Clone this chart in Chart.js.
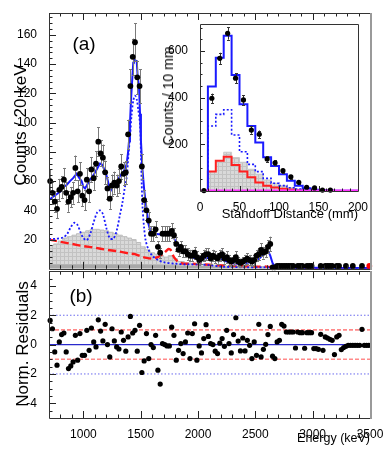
<!DOCTYPE html>
<html><head><meta charset="utf-8">
<script src="https://cdn.jsdelivr.net/npm/chart.js@4/dist/chart.umd.min.js"></script>
<style>
html,body{margin:0;padding:0;background:#fff;}
#wrap{position:relative;width:390px;height:450px;overflow:hidden;background:#fff;}
canvas{position:absolute;}
.t{position:absolute;white-space:nowrap;line-height:1;color:#000;font-family:'Liberation Sans',Arial,Helvetica,sans-serif;}
.c{transform:translate(-50%,-50%);}
.v{transform:translate(-50%,-50%) rotate(-90deg);}
.r{transform:translate(-100%,-50%);}
</style></head><body>
<div id="wrap">
<canvas id="main" width="390" height="280" style="left:0;top:0"></canvas>
<canvas id="res" width="390" height="190" style="left:0;top:260px"></canvas>
<canvas id="inset" width="220" height="215" style="left:150px;top:10px"></canvas>
<div class="t c" style="left:84px;top:43px;font-size:19px">(a)</div>
<div class="t v" style="left:20px;top:125px;font-size:17px">Counts / 20 keV</div>
<div class="t c" style="left:81px;top:295px;font-size:19px">(b)</div>
<div class="t v" style="left:22px;top:344px;font-size:17px">Norm. Residuals</div>
<div class="t r" style="left:370px;top:438px;font-size:12.5px">Energy (keV)</div>
<div class="t v" style="left:168px;top:96px;font-size:14px">Counts / 10 mm</div>
<div class="t r" style="left:358px;top:213px;font-size:13px">Standoff Distance (mm)</div>
</div>
<script>
const FONT = "'Liberation Sans', Arial, Helvetica, sans-serif";

// ================= DATA =================
// main panel: data counts per 20 keV bin, first bin centre 710 keV
const binStartKeV = 710, binWidthKeV = 20;
const counts = [60,52,46,41,54,56,61,52,46,49,
  52,69,53,65,50,47,61,53,68,62,
  72,87,79,76,66,55,48,57,59,57,
  60,70,65,66,92,125,145,155,131,125,
  70,47,40,33,24,24,27,15,11,24,
  24,24,24,26,23,17,13,15,12,12,
  10,9,9,11,8,6,7,9,10,10,
  7,9,
  8,7,9,10,7,8,6,5,6,8,
  5,4,5,6,7,6,5,6,9,10,
  13,11,12,15,17,1,1,2,2,2,
  2,2,2,2,2,null,2,2,2,null,
  2,2,2,null,null,null,2,null,2,2,
  2,2,null,2,2,null,null,2,null,null,
  2,null,null,null,2,null,null,null];
const countErrs = [8,7.5,7,6.5,7.5,7.5,8,7.5,7,7,
  7.5,8.5,7.5,8,7,7,8,7.5,8.5,8,
  8.5,10,9,9,8,7.5,7,7.5,7.5,7.5,
  8,8.5,8,8,10,11.5,12.5,13,11.5,11.5,
  8.5,7,6.5,6,5,5,5.5,4,3.5,5,
  5,5,5,5,5,4.5,4,4,4,4,
  4,4,4,4,4,3.5,3.5,4,4,4,
  3.5,4,
  4,3.5,4,4,3.5,4,3.5,3,3.5,4,
  3,3,3,3.5,3.5,3.5,3,3.5,4,4,
  4.5,4,4,4.5,5,1.5,1.5,1.5,1.5,1.5,
  1.5,1.5,1.5,1.5,1.5,0,1.5,1.5,1.5,0,
  1.5,1.5,1.5,0,0,0,1.5,0,1.5,1.5,
  1.5,1.5,0,1.5,1.5,0,0,1.5,0,0,
  1.5,0,0,0,1.5,0,0,0];
const residuals = [1.65,1.08,-0.5,-1.4,0.18,0.68,0.79,-0.5,-1.63,-1.45,
  -1.18,0.63,-1.06,0.75,-0.73,-0.73,0.97,-0.39,1.13,0.18,
  -0.16,1.69,0.92,0.25,1.38,0.0,-0.84,1.08,0.25,-0.16,
  -0.3,0.86,0.29,-0.45,0.52,1.92,0.79,0.97,-0.45,1.31,
  -1.9,-1.11,0.75,-0.95,0.0,-0.2,0.63,-1.74,-2.69,0.07,
  0.0,-0.09,-0.09,1.19,0.63,-1.06,-0.39,0.07,-0.61,0.18,
  0.79,-0.95,0.75,1.42,-1.06,-0.09,-0.57,0.41,1.36,0.56,
  0.07,0.0,
  -0.45,-0.61,0.1,0.41,-0.12,0.97,0.07,-0.57,0.68,1.83,
  0.24,-0.43,0.45,-0.43,0.29,-0.05,-0.95,0.18,-0.73,1.38,
  -0.84,-0.32,0.02,0.68,1.24,-0.79,-0.95,0.18,0.29,1.38,
  1.26,0.86,0.86,0.86,0.86,-0.23,0.86,0.81,0.81,-0.25,
  0.81,0.81,0.81,-0.27,-0.27,-0.32,0.7,-0.39,0.52,0.45,
  0.36,0.29,-0.68,0.52,0.63,-0.34,-0.2,-0.12,-0.05,-0.05,
  -0.05,-0.05,-0.05,-0.05,1.04,-0.05,-0.05,-0.05];
const overflowE = [3494];
const overflowC = [2];

// total fit (blue solid)
const fitTotalE = [700,730,767,800,825,850,883,910,941,965,985,1000,1014,1030,1043,1072,1095,1116,1145,1160,1174,1190,1203,1220,1238,1261,1290,1319,1348,1377,1390,1398,1406,1415,1427,1435,1441,1465,1474,1485,1494,1502,1514,1531,1546,1567,1587,1620,1680,1740,1770,1790,1814,1857,1915,1960,2000,2050,2100,2150,2200,2250,2300,2360,2420,2480,2520,2560,2590,2610,2630,2650,2670,2700,2800,3000,3200,3500];
const fitTotalC = [47,49,51,53,56,57,60,62,65,62,60,56,55,57,59,62.5,65,68,72,71.5,69.5,66,63.5,58,53.5,57,59,63.5,66,71.5,80,87.5,99,115,131,141,143,142,131,125,106,87.5,69,53.5,44,31,25,24,23.5,24,24,21,17,13.5,9,7.5,7,7,7.5,7.5,6.5,5,3.8,3.5,4,5,6,9,12,12.5,9,4,1.5,1,1,0.8,0.6,0.5];
// component (blue dotted)
const compBlueE = [700,760,825,860,890,920,945,975,1000,1029,1060,1090,1120,1145,1170,1200,1230,1261,1290,1319,1340,1360,1377,1395,1406,1420,1435,1450,1465,1480,1494,1502,1508,1516,1529,1543,1566,1600,1650,1700,1800,1900,2000,2100,2200,2400,2600,2700,3500];
const compBlueC = [20.5,20.5,21.5,24,28.5,31.5,30.5,25,21,19.5,24,32,38.5,40,37.5,28,21,20.5,26,37,45,55,62,80,89,105,115,118.5,116,108,99,78.5,60,42,28.5,19.5,13.5,9,6,4.5,3.5,3,3,2.5,1.5,1,1,0.5,0.3];
// component (red dashed)
const compRedE = [700,800,900,1000,1100,1200,1300,1400,1450,1500,1550,1600,1650,1700,1740,1760,1790,1830,1880,1950,2050,2150,2300,2500,2600,2700,3500];
const compRedC = [20,18.5,17,15.5,14.5,13,12,10.5,10,8.5,7.5,7,8,10.5,13.5,13,8,4.5,3.5,3.5,3,2.5,2,1.5,1.5,0.5,0.3];
// component (grey hatched, histogram left edges)
const compGreyE = [700,740,780,820,860,900,940,980,1020,1060,1100,1140,1180,1220,1260,1300,1340,1380,1420,1460,1500,1540,1580,1620,1660,1700,1740,1780,1820,1880,1940,2000,2100,2200,2400,2600,2700,3500];
const compGreyC = [16,17,19,21,22,23,24,25,26,27,27,26.5,26,25,24,23,22,21,20,18,15,13,11,10,9,8,9,7,5,4,3.5,3,2.5,2,1.5,1.5,0.5,0.3];
// component (dark grey)
const compDarkE = [700,1500,1800,2200,2700,3500];
const compDarkC = [3,3,2.5,1.5,0.5,0.3];

const mainYTicks = [20,40,60,80,100,120,140,160];
const energyTicks = [1000,1500,2000,2500,3000,3500];
const resYTicks = [4,2,0,-2,-4];
const refLevels = [0,1,-1,2,-2];

// inset: standoff distance
const insetEdges = [0,10,20,30,40,50,60,70,80,90,100,110,120,130,140,150,160,170,180,190,200];
const insetFit = [0,447,571,665,497,371,278,208,144,107,72,44,23,12,5,3,2,1,1,1];
const insetBlueComp = [0,278,328,348,240,168,114,83,54,33,23,14,8,5,2,1,1,0.5,0.5,0.5];
const insetGrey = [0,83,125,166,143,123,93,72,47,33,23,14,8,4,2,1,1,0.5,0.5,0.5];
const insetRed = [0,83,130,147,111,83,59,36,22,15,10,6,3,1,1,0.5,0.5,0.3,0.3,0.3];
const insetMagenta = [2,2,2,2,2,2,2,2,2,2,2,2,2,2,2,2,2,2,2,2];
const insetDataX = [5,15,25,35,45,55,65,75,85,95,105,115,125,135,145,155,165];
const insetDataY = [2,397,568,675,483,390,261,243,137,121,87,61,37,16,13,4,4];
const insetDataErr = [3,20,24,27,22,20,16,16,12,11,9,8,6,4,4,2,2];
const insetXTicks = [0,50,100,150,200];
const insetYTicks = [200,400,600];

// ================= HELPERS =================
const xy = (xs, ys) => xs.map((x, i) => ({x, y: ys[i]}));
const hist = (edges, vals) => vals.map((v, i) => ({x: edges[i], y: v})).concat([{x: edges[vals.length], y: vals[vals.length-1]}]);
const binEnergies = counts.map((_, i) => binStartKeV + i * binWidthKeV);

function makePattern() {
  const c = document.createElement('canvas'); c.width = 4; c.height = 4;
  const g = c.getContext('2d');
  g.fillStyle = '#d9d9d9'; g.fillRect(0,0,4,4);
  g.fillStyle = '#c2c2c2'; g.fillRect(0,0,4,1); g.fillRect(0,0,1,4);
  return g.createPattern(c, 'repeat');
}
const greyPattern = makePattern();

const rootStyle = {
  id: 'rootStyle',
  beforeDatasetDraw(chart, args) {
    const ds = chart.data.datasets[args.index];
    if (!ds.yErr) return;
    const ctx = chart.ctx, xs = chart.scales.x, ys = chart.scales.y;
    ctx.save();
    ctx.strokeStyle = ds.errColor || '#777';
    ctx.lineWidth = 1;
    const cap = ds.capHalf || 1.5;
    ds.data.forEach((p, i) => {
      if (p.y == null) return;
      const e = ds.yErr[i]; if (!e) return;
      const px = Math.round(xs.getPixelForValue(p.x)) + 0.5;
      const y1 = ys.getPixelForValue(p.y + e), y2 = ys.getPixelForValue(Math.max(p.y - e, ys.min));
      ctx.beginPath();
      ctx.moveTo(px, y1); ctx.lineTo(px, y2);
      ctx.moveTo(px - cap, Math.round(y1) + 0.5); ctx.lineTo(px + cap, Math.round(y1) + 0.5);
      ctx.moveTo(px - cap, Math.round(y2) + 0.5); ctx.lineTo(px + cap, Math.round(y2) + 0.5);
      ctx.stroke();
    });
    ctx.restore();
  },
  afterDraw(chart, args, o) {
    const ctx = chart.ctx, a = chart.chartArea, xs = chart.scales.x, ys = chart.scales.y;
    ctx.save();
    const t = o.ticks;
    if (t) {
      ctx.strokeStyle = '#222'; ctx.lineWidth = 1; ctx.beginPath();
      const minors = (s, step) => { const r = []; for (let v = Math.ceil(s.min / step - 1e-9) * step; v <= s.max + 1e-9; v += step) r.push(v); return r; };
      const doX = (vals, len) => vals.forEach(v => {
        const p = Math.round(xs.getPixelForValue(v)) + 0.5;
        if (p < a.left - 0.1 || p > a.right + 0.1) return;
        if (t.xSides.includes('bottom')) { ctx.moveTo(p, a.bottom); ctx.lineTo(p, a.bottom - len); }
        if (t.xSides.includes('top')) { ctx.moveTo(p, a.top); ctx.lineTo(p, a.top + len); }
      });
      const doY = (vals, len) => vals.forEach(v => {
        const p = Math.round(ys.getPixelForValue(v)) + 0.5;
        if (p < a.top - 0.1 || p > a.bottom + 0.1) return;
        if (t.ySides.includes('left')) { ctx.moveTo(a.left, p); ctx.lineTo(a.left + len, p); }
        if (t.ySides.includes('right')) { ctx.moveTo(a.right, p); ctx.lineTo(a.right - len, p); }
      });
      doX(minors(xs, t.xMinor), t.minorLen); doX(minors(xs, t.xMajor), t.majorLen);
      doY(minors(ys, t.yMinor), t.minorLen); doY(minors(ys, t.yMajor), t.majorLen);
      ctx.stroke();
    }
    if (o.frame) {
      ctx.strokeStyle = '#333'; ctx.lineWidth = 1;
      ctx.beginPath();
      const L = Math.round(a.left) + 0.5, T = Math.round(a.top) + 0.5, B = Math.round(a.bottom) + 0.5, R = Math.round(a.right) + 0.5;
      ctx.moveTo(R, T); ctx.lineTo(L, T); ctx.lineTo(L, B); ctx.lineTo(R, B);
      if (!o.greyRight) ctx.lineTo(R, T);
      ctx.stroke();
      if (o.greyRight) {
        ctx.strokeStyle = '#9a9a9a'; ctx.lineWidth = 2;
        ctx.beginPath(); ctx.moveTo(R + 0.5, T - 0.5); ctx.lineTo(R + 0.5, B + 0.5); ctx.stroke();
      }
    }
    ctx.restore();
  }
};

const common = {
  responsive: false, devicePixelRatio: 1, animation: false,
  events: [],
  plugins: { legend: {display: false}, tooltip: {enabled: false} },
};
const setTicks = vals => s => { s.ticks = vals.map(v => ({value: v})); };
const plain = v => String(v);
const tickFont = {family: FONT, size: 12};

// ================= MAIN PANEL =================
new Chart(document.getElementById('main'), {
  type: 'line',
  data: { datasets: [
    { data: xy(binEnergies, counts), yErr: countErrs, errColor: '#7a7a7a', capHalf: 1.5,
      showLine: false, pointRadius: 2.9, pointBackgroundColor: '#000', pointBorderWidth: 0, order: 0, clip: 6 },
    { data: xy(overflowE, overflowC), showLine: false, pointRadius: 2.9, pointBackgroundColor: '#ff0000', pointBorderWidth: 0, order: 0, clip: 6 },
    { data: xy(fitTotalE, fitTotalC), borderColor: '#1a1aff', borderWidth: 2, pointRadius: 0, tension: 0, order: 1 },
    { data: xy(compBlueE, compBlueC), borderColor: '#1a1aff', borderWidth: 1.8, borderDash: [2, 2], pointRadius: 0, tension: 0.3, order: 2 },
    { data: xy(compRedE, compRedC), borderColor: '#ff1a1a', borderWidth: 2.4, borderDash: [8, 4], pointRadius: 0, tension: 0.2, order: 3 },
    { data: xy(compDarkE, compDarkC), borderWidth: 0, backgroundColor: '#a8a8a8', fill: 'origin', pointRadius: 0, order: 4 },
    { data: xy(compGreyE, compGreyC), stepped: 'before', borderColor: '#bdbdbd', borderWidth: 1, backgroundColor: greyPattern, fill: 'origin', pointRadius: 0, order: 5 },
  ]},
  options: Object.assign({}, common, {
    layout: { padding: {left: 0, top: 13, right: 20, bottom: 10} },
    scales: {
      x: { type: 'linear', min: 700, max: 3500, display: false },
      y: { type: 'linear', min: 0, max: 175, position: 'left',
        afterFit: s => { s.width = 49; }, afterBuildTicks: setTicks(mainYTicks),
        grid: {display: false}, border: {display: false},
        ticks: {font: tickFont, color: '#000', padding: 4, autoSkip: false, callback: plain} }
    },
    plugins: Object.assign({}, common.plugins, {
      rootStyle: { frame: true, greyRight: true,
        ticks: {xSides: ['bottom', 'top'], ySides: ['left'], xMajor: 500, xMinor: 100, yMajor: 20, yMinor: 4, majorLen: 7, minorLen: 3.5} }
    })
  }),
  plugins: [rootStyle]
});

// ================= RESIDUAL PANEL =================
const refStyles = {
  '0': {c: '#2a2acc', w: 1.2, d: []},
  '1': {c: '#ff8a8a', w: 1.6, d: [4, 2]},
  '2': {c: '#6a6aee', w: 1, d: [1.5, 2]}
};
new Chart(document.getElementById('res'), {
  type: 'line',
  data: { datasets: [
    { data: xy(binEnergies, residuals), showLine: false, pointRadius: 2.6, pointBackgroundColor: '#000', pointBorderWidth: 0, order: 0, clip: 6 },
  ].concat(refLevels.map(v => {
    const st = refStyles[String(Math.abs(v))];
    return { data: [{x: 700, y: v}, {x: 3500, y: v}], borderColor: st.c, borderWidth: st.w, borderDash: st.d, pointRadius: 0, order: 1 };
  }))},
  options: Object.assign({}, common, {
    layout: { padding: {left: 0, top: 10, right: 20, bottom: 0} },
    scales: {
      x: { type: 'linear', min: 700, max: 3500, position: 'bottom',
        afterFit: s => { s.height = 32; }, afterBuildTicks: setTicks(energyTicks),
        grid: {display: false}, border: {display: false},
        ticks: {font: tickFont, color: '#000', padding: 1, maxRotation: 0, autoSkip: false, callback: plain} },
      y: { type: 'linear', min: -5, max: 5, position: 'left',
        afterFit: s => { s.width = 49; }, afterBuildTicks: setTicks(resYTicks),
        grid: {display: false}, border: {display: false},
        ticks: {font: tickFont, color: '#000', padding: 4, autoSkip: false, callback: plain} }
    },
    plugins: Object.assign({}, common.plugins, {
      rootStyle: { frame: true, greyRight: true,
        ticks: {xSides: ['bottom', 'top'], ySides: ['left'], xMajor: 500, xMinor: 100, yMajor: 2, yMinor: 0.5, majorLen: 7, minorLen: 3.5} }
    })
  }),
  plugins: [rootStyle]
});

// ================= INSET =================
new Chart(document.getElementById('inset'), {
  type: 'line',
  data: { datasets: [
    { data: xy(insetDataX, insetDataY), yErr: insetDataErr, errColor: '#333', capHalf: 1.5,
      showLine: false, pointRadius: 2.6, pointBackgroundColor: '#000', pointBorderWidth: 0, order: 0, clip: 6 },
    { data: hist(insetEdges, insetMagenta), stepped: 'before', borderColor: '#ff33ff', borderWidth: 2, pointRadius: 0, order: 1 },
    { data: hist(insetEdges, insetFit), stepped: 'before', borderColor: '#1a1aff', borderWidth: 2, pointRadius: 0, order: 2 },
    { data: hist(insetEdges, insetBlueComp), stepped: 'before', borderColor: '#1a1aff', borderWidth: 1.6, borderDash: [2, 2], pointRadius: 0, order: 3 },
    { data: hist(insetEdges, insetRed), stepped: 'before', borderColor: '#ff2020', borderWidth: 2, pointRadius: 0, order: 4 },
    { data: hist(insetEdges, insetGrey), stepped: 'before', borderColor: '#c8c8c8', borderWidth: 1, backgroundColor: greyPattern, fill: 'origin', pointRadius: 0, order: 5 },
  ]},
  options: Object.assign({}, common, {
    layout: { padding: {left: 0, top: 14, right: 12, bottom: 0} },
    scales: {
      x: { type: 'linear', min: 0, max: 200, position: 'bottom',
        afterFit: s => { s.height = 34; }, afterBuildTicks: setTicks(insetXTicks),
        grid: {display: false}, border: {display: false},
        ticks: {font: tickFont, color: '#000', padding: 1, maxRotation: 0, autoSkip: false, callback: plain} },
      y: { type: 'linear', min: 0, max: 715, position: 'left',
        afterFit: s => { s.width = 50; }, afterBuildTicks: setTicks(insetYTicks),
        grid: {display: false}, border: {display: false},
        ticks: {font: tickFont, color: '#000', padding: 4, autoSkip: false, callback: plain} }
    },
    plugins: Object.assign({}, common.plugins, {
      rootStyle: { frame: true, greyRight: false,
        ticks: {xSides: ['bottom'], ySides: ['left'], xMajor: 50, xMinor: 10, yMajor: 200, yMinor: 50, majorLen: 5, minorLen: 2.5} }
    })
  }),
  plugins: [rootStyle]
});
</script>
</body></html>
